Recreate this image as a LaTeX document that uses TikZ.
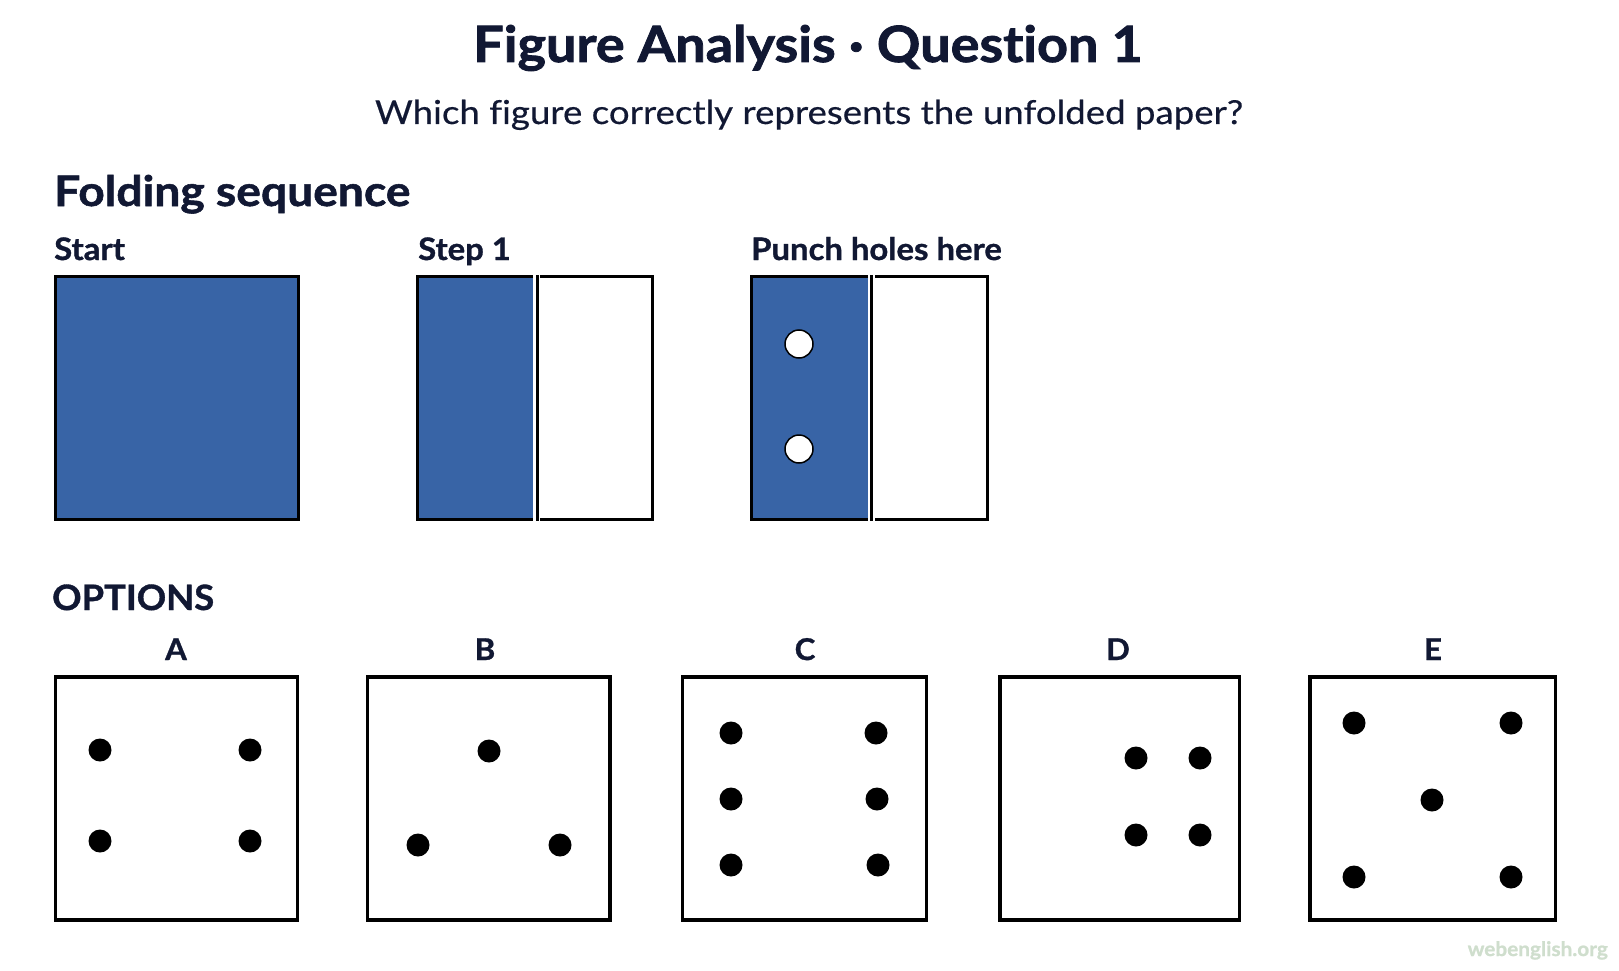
\documentclass[tikz,border=0pt]{standalone}
\usepackage{fontspec}
\setmainfont{Lato}[Ligatures=NoCommon]
\newfontfamily\ttlfont{Lato}[Ligatures=NoCommon,FakeStretch=1.08,FakeBold=1.6]
\newfontfamily\subfont{Lato}[Ligatures=NoCommon,FakeStretch=1.11,FakeBold=0.4]
\newfontfamily\headfont{Lato}[Ligatures=NoCommon,FakeStretch=1.1,FakeBold=1.3]
\newfontfamily\lblfont{Lato}[Ligatures=NoCommon,FakeStretch=1.06,FakeBold=1.0]
\newfontfamily\optfont{Lato}[Ligatures=NoCommon,FakeStretch=1.04,FakeBold=1.0]
\definecolor{ink}{HTML}{111833}
\definecolor{paper}{RGB}{56,100,166}
\definecolor{wm}{HTML}{CFDECD}
\begin{document}
\begin{tikzpicture}[x=1pt,y=-1pt,
  txt/.style={inner sep=0,text=ink},
  edge/.style={draw=black,line width=3pt},
  dot/.style={circle,fill=black,inner sep=0,minimum size=23pt},
  hole/.style={circle,fill=white,draw=black,line width=1.5pt,inner sep=0,minimum size=28pt}]
\useasboundingbox[fill=white] (0,0) rectangle (1619,971);

% headings
\node[txt,anchor=base,font=\fontsize{50}{60}\ttlfont\bfseries] (title) at (808,62) {Figure Analysis · Question 1};
\node[txt,anchor=base,font=\fontsize{33}{40}\subfont] (sub) at (809,124) {Which figure correctly represents the unfolded paper?};
\node[txt,anchor=base west,font=\fontsize{42}{50}\headfont\bfseries] (fold) at (54,206) {Folding sequence};
\node[txt,anchor=base west,font=\fontsize{31}{38}\lblfont\bfseries] (lstart) at (54,260) {Start};
\node[txt,anchor=base west,font=\fontsize{31}{38}\lblfont\bfseries] (lstep) at (418,260) {Step 1};
\node[txt,anchor=base west,font=\fontsize{31}{38}\lblfont\bfseries] (lpunch) at (751,260) {Punch holes here};
\node[txt,anchor=base west,font=\fontsize{35}{42}\optfont\bfseries] (opts) at (52,610) {OPTIONS};

% start
\draw[edge,fill=paper] (55.5,276.5) rectangle (298,519);

% step 1
\fill[paper] (417.5,276.5) rectangle (533,519);
\draw[edge] (533,276.5) -- (417.5,276.5) -- (417.5,519) -- (533,519);
\draw[edge] (537,275) -- (537,520.5);
\draw[edge] (540,276.5) -- (652,276.5) -- (652,519) -- (540,519);

% punch
\fill[paper] (751.5,276.5) rectangle (868,519);
\draw[edge] (868,276.5) -- (751.5,276.5) -- (751.5,519) -- (868,519);
\draw[edge] (871.5,275) -- (871.5,520.5);
\draw[edge] (875,276.5) -- (987.5,276.5) -- (987.5,519) -- (875,519);
\node[hole] (h1) at (799,344) {};
\node[hole] (h2) at (799,449) {};

% options
\foreach \n/\l/\r/\cx in {A/55.5/297.5/176,B/367.5/610/485,C/682.5/926.5/805,D/1000/1239.5/1118,E/1310/1555.5/1433}{
  \draw[line width=3.5pt] (\l,677) rectangle (\r,920);
  \node[txt,anchor=base,font=\fontsize{30}{36}\optfont\bfseries] (lab\n) at (\cx,660) {\n};
}
\foreach \p/\x/\y in {a1/100/750,a2/250/750,a3/100/841,a4/250/841,
  b1/489/751,b2/418/845,b3/560/845,
  c1/731/733,c2/876/733,c3/731/799,c4/877/799,c5/731/865,c6/878/865,
  d1/1136/758,d2/1200/758,d3/1136/835,d4/1200/835,
  e1/1354/723,e2/1511/723,e3/1432/800,e4/1354/877,e5/1511/877}{
  \node[dot] (\p) at (\x,\y) {};
}

\node[inner sep=0,anchor=base east,text=wm,font=\fontsize{20}{24}\optfont\bfseries] (wmark) at (1608,956) {webenglish.org};
\end{tikzpicture}
\end{document}
